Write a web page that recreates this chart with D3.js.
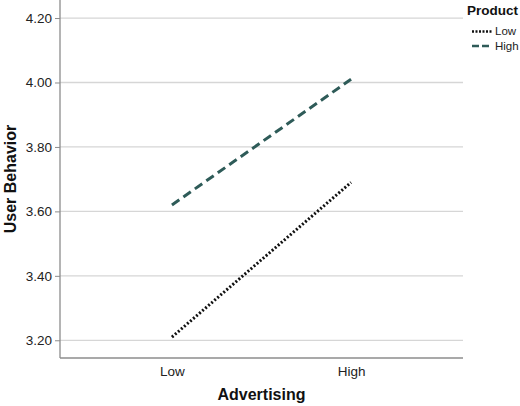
<!DOCTYPE html>
<html>
<head>
<meta charset="utf-8">
<script src="https://cdn.jsdelivr.net/npm/d3@7"></script>
<style>
  body { margin: 0; background: #fff; }
  svg { display: block; font-family: "Liberation Sans", Arial, sans-serif; }
</style>
</head>
<body>
<div id="chart"></div>
<script>
(function(){
    "use strict";

    //==========================================================================================
    // Data
    //==========================================================================================
    var advertising = ["Low", "High"];
    var productLevels = ["Low", "High"];
    var productLow = [3.21, 3.69];
    var productHigh = [3.62, 4.01];
    var yTicks = [3.20, 3.40, 3.60, 3.80, 4.00, 4.20];

    var series = [
        { name: productLevels[0], values: productLow, color: "#111111", dash: "2,2", width: 3 },
        { name: productLevels[1], values: productHigh, color: "#2e5b58", dash: "9,5", width: 3 }
    ];

    //==========================================================================================
    // Layout
    //==========================================================================================
    var width = 520, height = 406;
    var margin = { top: 0, right: 57, bottom: 48, left: 60 };
    var innerW = width - margin.left - margin.right;
    var innerH = height - margin.top - margin.bottom;

    var svg = d3.select("#chart").append("svg")
        .attr("width", width)
        .attr("height", height);

    var g = svg.append("g")
        .attr("transform", "translate(" + margin.left + "," + margin.top + ")");

    var x = d3.scalePoint().domain(advertising).range([0, innerW]).padding(0.625);
    var y = d3.scaleLinear().domain([3.145, 4.256]).range([innerH, 0]);

    //------------------------------------------------------------------------------------------
    // Grid lines
    //------------------------------------------------------------------------------------------
    g.selectAll(".grid").data(yTicks).enter().append("line")
        .attr("class", "grid")
        .attr("x1", 0).attr("x2", innerW)
        .attr("y1", function(d) { return y(d); })
        .attr("y2", function(d) { return y(d); })
        .attr("stroke", "#d6d6d6")
        .attr("stroke-width", 1.3);

    //------------------------------------------------------------------------------------------
    // Axes
    //------------------------------------------------------------------------------------------
    var yAxis = g.append("g")
        .call(d3.axisLeft(y).tickValues(yTicks).tickFormat(d3.format(".2f")).tickSize(5).tickPadding(3));
    var xAxis = g.append("g")
        .attr("transform", "translate(0," + innerH + ")")
        .call(d3.axisBottom(x).tickSize(0).tickPadding(8));

    [yAxis, xAxis].forEach(function(ax) {
        ax.attr("font-size", null).attr("font-family", null);
        ax.select(".domain").attr("stroke", "#8c8c8c").attr("stroke-width", 1.3);
        ax.selectAll(".tick line").attr("stroke", "#8c8c8c");
        ax.selectAll("text").attr("fill", "#222").style("font-size", "13.5px");
    });
    // plain frame edges, no outer ticks
    xAxis.select(".domain").attr("d", "M0,0H" + innerW);
    yAxis.select(".domain").attr("d", "M0,0V" + innerH);

    //------------------------------------------------------------------------------------------
    // Lines
    //------------------------------------------------------------------------------------------
    var line = d3.line()
        .x(function(d, i) { return x(advertising[i]); })
        .y(function(d) { return y(d); });

    g.selectAll(".series").data(series).enter().append("path")
        .attr("class", "series")
        .attr("d", function(d) { return line(d.values); })
        .attr("fill", "none")
        .attr("stroke", function(d) { return d.color; })
        .attr("stroke-width", function(d) { return d.width; })
        .attr("stroke-dasharray", function(d) { return d.dash; });

    //------------------------------------------------------------------------------------------
    // Axis titles
    //------------------------------------------------------------------------------------------
    svg.append("text")
        .attr("x", margin.left + innerW / 2)
        .attr("y", 400)
        .attr("text-anchor", "middle")
        .style("font-size", "16px")
        .style("font-weight", "bold")
        .attr("fill", "#111")
        .text("Advertising");

    svg.append("text")
        .attr("transform", "translate(16," + (margin.top + innerH / 2) + ") rotate(-90)")
        .attr("text-anchor", "middle")
        .style("font-size", "16px")
        .style("font-weight", "bold")
        .attr("fill", "#111")
        .text("User Behavior");

    //------------------------------------------------------------------------------------------
    // Legend
    //------------------------------------------------------------------------------------------
    var legend = svg.append("g").attr("transform", "translate(467,0)");
    legend.append("text")
        .attr("x", 0).attr("y", 15)
        .style("font-size", "13.5px")
        .style("font-weight", "bold")
        .attr("fill", "#111")
        .text("Product");

    var item = legend.selectAll(".item").data(series).enter().append("g")
        .attr("class", "item")
        .attr("transform", function(d, i) { return "translate(0," + (35 + i * 14.5) + ")"; });
    item.append("line")
        .attr("x1", 5).attr("x2", 25)
        .attr("y1", -3.5).attr("y2", -3.5)
        .attr("stroke", function(d) { return d.color; })
        .attr("stroke-width", 2.5)
        .attr("stroke-dasharray", function(d, i) { return i === 0 ? "2,1.5" : "7,3"; });
    item.append("text")
        .attr("x", 28).attr("y", 0)
        .style("font-size", "11.5px")
        .attr("fill", "#222")
        .text(function(d) { return d.name; });

})();
</script>
</body>
</html>
